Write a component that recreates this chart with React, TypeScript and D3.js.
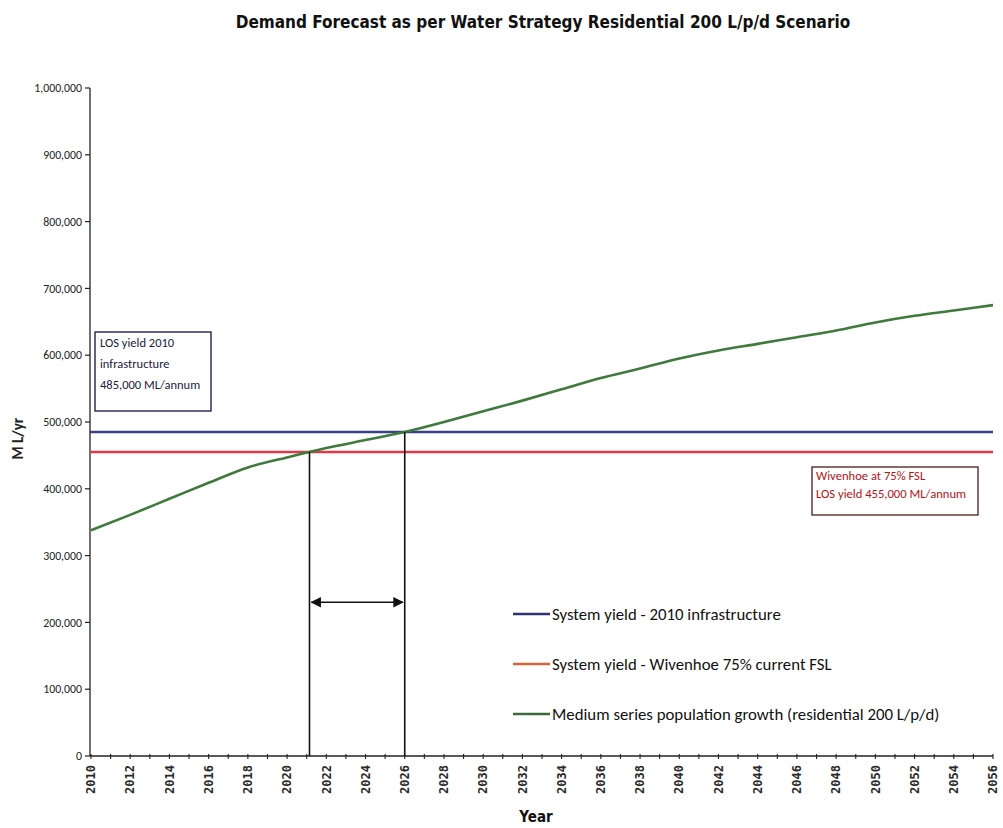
import * as d3 from "d3";

// Year categories and demand series (ML/yr)
const years = [
  2010, 2012, 2014, 2016, 2018, 2020, 2022, 2024, 2026, 2028, 2030, 2032,
  2034, 2036, 2038, 2040, 2042, 2044, 2046, 2048, 2050, 2052, 2054, 2056,
];
const demand = [
  338000, 361000, 385000, 409000, 432000, 447000, 461000, 473000, 485000,
  500000, 516000, 532000, 549000, 566000, 580000, 595000, 607000, 617000,
  627000, 637000, 649000, 659000, 667000, 675000,
];
const systemYield2010 = 485000;
const wivenhoeYield = 455000;

const yTicks = [0, 100000, 200000, 300000, 400000, 500000, 600000, 700000, 800000, 900000, 1000000];

const legendItems = [
  { label: "System yield - 2010 infrastructure", color: "#2e3275" },
  { label: "System yield - Wivenhoe 75% current FSL", color: "#d8603c" },
  { label: "Medium series population growth (residential 200 L/p/d)", color: "#3b6b3a" },
];

const W = 1003;
const H = 828;
const margin = { top: 88, right: 10, bottom: 72, left: 91 };

const calibri = "Carlito, Lato, 'Open Sans', sans-serif";
const narrow = "'Liberation Sans Narrow', 'DejaVu Sans Condensed', sans-serif";

// year where the demand series reaches a given value
function crossing(value: number) {
  for (let i = 1; i < demand.length; i++) {
    if (demand[i - 1] <= value && demand[i] >= value) {
      const t = (value - demand[i - 1]) / (demand[i] - demand[i - 1]);
      return years[i - 1] + t * (years[i] - years[i - 1]);
    }
  }
  return years[0];
}

export default function App() {
  const x = d3
    .scaleLinear()
    .domain([2010, 2056])
    .range([margin.left, W - margin.right]);
  const y = d3
    .scaleLinear()
    .domain([0, 1000000])
    .range([H - margin.bottom, margin.top]);

  const line = d3
    .line<number>()
    .x((_, i) => x(years[i]))
    .y((d) => y(d))
    .curve(d3.curveMonotoneX);

  const allYears = d3.range(2010, 2057);
  const fmt = d3.format(",");

  const cross1 = crossing(wivenhoeYield);
  const cross2 = crossing(systemYield2010);
  const x0 = margin.left - 1;
  const y0 = H - margin.bottom;
  const arrowY = y(230000);

  return (
    <svg
      width={W}
      height={H}
      style={{ position: "absolute", left: 0, top: 0, background: "#fff" }}
    >
      <defs>
        <marker
          id="arr"
          viewBox="0 0 10 10"
          refX="9"
          refY="5"
          markerWidth="7"
          markerHeight="7"
          orient="auto-start-reverse"
        >
          <path d="M0,0 L10,5 L0,10 z" fill="#111" />
        </marker>
      </defs>

      {/* Title */}
      <text
        x={543}
        y={28}
        textAnchor="middle"
        style={{ fontFamily: narrow, fontWeight: 700, fontSize: 17, fill: "#111" }}
      >
        Demand Forecast as per Water Strategy Residential 200 L/p/d Scenario
      </text>

      {/* Y axis */}
      <line x1={x0} x2={x0} y1={y(1000000)} y2={y0} stroke="#222" strokeWidth={1.3} />
      {yTicks.map((t) => (
        <g key={t}>
          <line x1={x0 - 5} x2={x0} y1={y(t)} y2={y(t)} stroke="#222" strokeWidth={1.2} />
          <text
            x={x0 - 8}
            y={y(t)}
            dy="0.35em"
            textAnchor="end"
            style={{ fontFamily: calibri, fontSize: 11.8, fill: "#222" }}
          >
            {fmt(t)}
          </text>
        </g>
      ))}
      <text
        transform={`translate(23,${y(475000)}) rotate(-90)`}
        textAnchor="middle"
        style={{ fontFamily: calibri, fontWeight: 700, fontSize: 15, fill: "#222" }}
      >
        M L/yr
      </text>

      {/* X axis */}
      <line x1={x0} x2={x(2056)} y1={y0} y2={y0} stroke="#222" strokeWidth={1.3} />
      {allYears.map((yr) => (
        <line
          key={yr}
          x1={x(yr)}
          x2={x(yr)}
          y1={y0 - 2}
          y2={y0 + 3}
          stroke="#222"
          strokeWidth={1.1}
        />
      ))}
      {years.map((yr) => (
        <text
          key={yr}
          transform={`translate(${x(yr)},${y0 + 9}) rotate(-90)`}
          dy="0.35em"
          textAnchor="end"
          style={{
            fontFamily: "'DejaVu Sans Mono', monospace",
            fontWeight: 700,
            fontSize: 12,
            fill: "#2a2a2a",
          }}
        >
          {yr}
        </text>
      ))}
      <text
        x={536}
        y={822}
        textAnchor="middle"
        style={{ fontFamily: narrow, fontWeight: 700, fontSize: 15, fill: "#111" }}
      >
        Year
      </text>

      {/* Yield lines */}
      <line
        x1={x0}
        x2={x(2056)}
        y1={y(systemYield2010)}
        y2={y(systemYield2010)}
        stroke="#3a3f86"
        strokeWidth={2.6}
      />
      <line
        x1={x0}
        x2={x(2056)}
        y1={y(wivenhoeYield)}
        y2={y(wivenhoeYield)}
        stroke="#e0384a"
        strokeWidth={2.6}
      />

      {/* Demand */}
      <path d={line(demand) ?? ""} fill="none" stroke="#3e7a3b" strokeWidth={2.6} />

      {/* Crossing markers */}
      <line x1={x(cross1)} x2={x(cross1)} y1={y(wivenhoeYield)} y2={y0} stroke="#111" strokeWidth={1.6} />
      <line x1={x(cross2)} x2={x(cross2)} y1={y(systemYield2010)} y2={y0} stroke="#111" strokeWidth={1.6} />
      <line
        x1={x(cross1) + 2}
        x2={x(cross2) - 2}
        y1={arrowY}
        y2={arrowY}
        stroke="#111"
        strokeWidth={1.5}
        markerStart="url(#arr)"
        markerEnd="url(#arr)"
      />

      {/* LOS 2010 box */}
      <rect x={95} y={332} width={116} height={79} fill="#fff" stroke="#1e2350" strokeWidth={1.4} />
      {["LOS yield 2010", "infrastructure", "485,000 ML/annum"].map((s, i) => (
        <text
          key={s}
          x={100}
          y={347 + i * 21}
          style={{ fontFamily: calibri, fontSize: 12.5, fill: "#1a1a3a" }}
        >
          {s}
        </text>
      ))}

      {/* Wivenhoe box */}
      <rect x={812} y={467} width={166} height={48} fill="#fff" stroke="#4a1a1a" strokeWidth={1.3} />
      {["Wivenhoe at 75% FSL", "LOS yield  455,000 ML/annum"].map((s, i) => (
        <text
          key={s}
          x={816}
          y={480 + i * 18}
          style={{ fontFamily: calibri, fontSize: 12.6, fill: "#b3121a" }}
        >
          {s}
        </text>
      ))}

      {/* Legend */}
      {legendItems.map((d, i) => (
        <g key={d.label} transform={`translate(513,${614 + i * 50})`}>
          <line x1={0} x2={37} y1={0} y2={0} stroke={d.color} strokeWidth={2.4} />
          <text
            x={39}
            y={0}
            dy="0.35em"
            style={{ fontFamily: calibri, fontSize: 16.8, fill: "#111" }}
          >
            {d.label}
          </text>
        </g>
      ))}
    </svg>
  );
}
